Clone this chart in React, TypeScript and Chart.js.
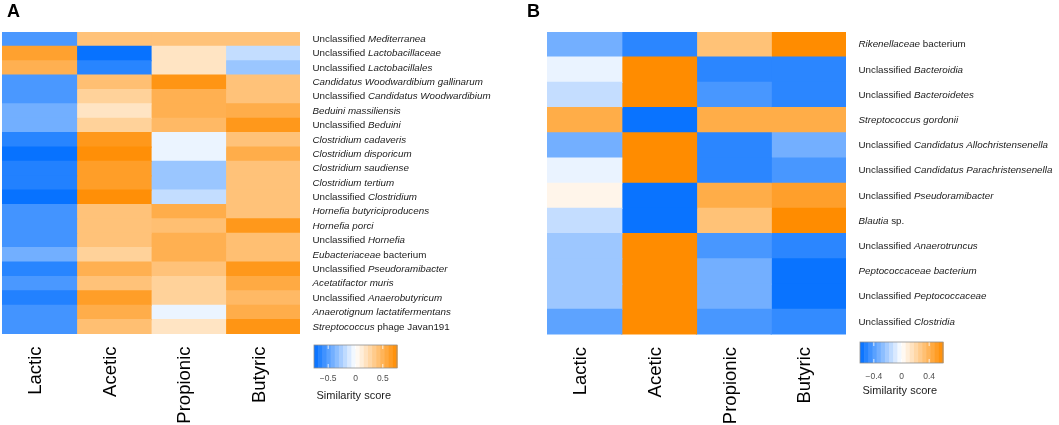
import React, { useEffect, useRef } from "react";
import { Chart, registerables } from "chart.js";

Chart.register(...registerables);

// ---------- data ----------
const columns = ["Lactic", "Acetic", "Propionic", "Butyric"];

// *text* marks the italic part of a label
const rowsA = [
  "Unclassified *Mediterranea*",
  "Unclassified *Lactobacillaceae*",
  "Unclassified *Lactobacillales*",
  "*Candidatus Woodwardibium gallinarum*",
  "Unclassified *Candidatus Woodwardibium*",
  "*Beduini massiliensis*",
  "Unclassified *Beduini*",
  "*Clostridium cadaveris*",
  "*Clostridium disporicum*",
  "*Clostridium saudiense*",
  "*Clostridium tertium*",
  "Unclassified *Clostridium*",
  "*Hornefia butyriciproducens*",
  "*Hornefia porci*",
  "Unclassified *Hornefia*",
  "*Eubacteriaceae* bacterium",
  "Unclassified *Pseudoramibacter*",
  "*Acetatifactor muris*",
  "Unclassified *Anaerobutyricum*",
  "*Anaerotignum lactatifermentans*",
  "*Streptococcus* phage Javan191",
];
const lacticA = [-0.54, 0.62, 0.52, -0.54, -0.54, -0.42, -0.42, -0.64, -0.74, -0.66, -0.66, -0.74, -0.56, -0.56, -0.56, -0.42, -0.64, -0.54, -0.66, -0.56, -0.56];
const aceticA = [0.4, -0.74, -0.64, 0.42, 0.3, 0.18, 0.3, 0.68, 0.74, 0.64, 0.64, 0.74, 0.4, 0.4, 0.4, 0.3, 0.52, 0.4, 0.64, 0.54, 0.42];
const propionicA = [0.4, 0.18, 0.18, 0.7, 0.52, 0.52, 0.46, -0.06, -0.06, -0.3, -0.3, -0.18, 0.54, 0.42, 0.52, 0.52, 0.4, 0.3, 0.3, -0.06, 0.18];
const butyricA = [0.4, -0.18, -0.3, 0.4, 0.4, 0.54, 0.68, 0.4, 0.54, 0.4, 0.4, 0.4, 0.4, 0.68, 0.42, 0.42, 0.68, 0.56, 0.46, 0.54, 0.7];
const limitA = 0.76;
const ticksA = [-0.5, 0, 0.5];

const rowsB = [
  "*Rikenellaceae* bacterium",
  "Unclassified *Bacteroidia*",
  "Unclassified *Bacteroidetes*",
  "*Streptococcus gordonii*",
  "Unclassified *Candidatus Allochristensenella*",
  "Unclassified *Candidatus Parachristensenella*",
  "Unclassified *Pseudoramibacter*",
  "*Blautia* sp.",
  "Unclassified *Anaerotruncus*",
  "*Peptococcaceae bacterium*",
  "Unclassified *Peptococcaceae*",
  "Unclassified *Clostridia*",
];
const lacticB = [-0.33, -0.05, -0.14, 0.43, -0.33, -0.05, 0.05, -0.14, -0.23, -0.23, -0.23, -0.38];
const aceticB = [-0.5, 0.6, 0.6, -0.58, 0.6, 0.6, -0.58, -0.58, 0.6, 0.6, 0.6, 0.6];
const propionicB = [0.32, -0.5, -0.43, 0.43, -0.5, -0.5, 0.43, 0.32, -0.43, -0.33, -0.33, -0.43];
const butyricB = [0.6, -0.5, -0.5, 0.43, -0.33, -0.43, 0.5, 0.6, -0.5, -0.58, -0.58, -0.48];
const limitB = 0.6;
const ticksB = [-0.4, 0, 0.4];

const legendTitle = "Similarity score";

// ---------- styling ----------
const FONT = "'Liberation Sans', Arial, Helvetica, sans-serif";
const LOW = [0, 110, 255];
const HIGH = [255, 140, 0];

function scoreColor(v: number, lim: number): string {
  const t = Math.max(-1, Math.min(1, v / lim));
  const end = t < 0 ? LOW : HIGH;
  const a = Math.abs(t);
  const c = end.map((e) => Math.round(255 + (e - 255) * a));
  return `rgb(${c[0]},${c[1]},${c[2]})`;
}

function fmtTick(v: number): string {
  if (v === 0) return "0";
  return (v < 0 ? "\u2212" : "") + Math.abs(v).toString();
}

interface PanelCfg {
  letter: string;
  letterX: number;
  rows: string[];
  values: number[][];
  limit: number;
  ticks: number[];
  padding: { left: number; right: number; top: number; bottom: number };
  barTop: number;
  barH: number;
  tickY: number;
  titleY: number;
  width: number;
}

const decorPlugin = {
  id: "heatDecor",
  afterDraw(chart: any, _args: any, opts: any) {
    const cfg: PanelCfg = opts.cfg;
    const ctx: CanvasRenderingContext2D = chart.ctx;
    const area = chart.chartArea;
    const xs = chart.scales.x;
    const ys = chart.scales.y;
    ctx.save();

    // panel letter
    ctx.fillStyle = "#000";
    ctx.font = `bold 18px ${FONT}`;
    ctx.textAlign = "left";
    ctx.textBaseline = "alphabetic";
    ctx.fillText(cfg.letter, cfg.letterX, 16.5);

    // row labels (mixed italic)
    ctx.fillStyle = "#1a1a1a";
    ctx.textBaseline = "middle";
    cfg.rows.forEach((lab, i) => {
      const y = ys.getPixelForValue(i);
      let x = area.right + 12.5;
      const parts = lab.split("*");
      parts.forEach((p, k) => {
        if (!p) return;
        ctx.font = `${k % 2 === 1 ? "italic " : ""}9.8px ${FONT}`;
        ctx.fillText(p, x, y);
        x += ctx.measureText(p).width;
      });
    });

    // column labels (rotated)
    ctx.fillStyle = "#000";
    ctx.font = `18.5px ${FONT}`;
    columns.forEach((c, j) => {
      const x = xs.getPixelForValue(j + 0.5);
      ctx.save();
      ctx.translate(x + 1.8, area.bottom + 12.5);
      ctx.rotate(-Math.PI / 2);
      ctx.textAlign = "right";
      ctx.textBaseline = "alphabetic";
      ctx.fillText(c, 0, 0);
      ctx.restore();
    });

    // colour bar
    const bx = area.right + 14;
    const bw = 83;
    const by = cfg.barTop;
    const bh = cfg.barH;
    const nbin = 20;
    for (let b = 0; b < nbin; b++) {
      const v = -cfg.limit + (2 * cfg.limit * (b + 0.5)) / nbin;
      ctx.fillStyle = scoreColor(v, cfg.limit);
      const x0 = bx + (bw * b) / nbin;
      ctx.fillRect(x0, by, bw / nbin + 0.6, bh);
    }
    const toX = (v: number) => bx + ((v + cfg.limit) / (2 * cfg.limit)) * bw;
    ctx.strokeStyle = "#ffffff";
    ctx.lineWidth = 0.8;
    cfg.ticks.forEach((t) => {
      const x = toX(t);
      ctx.beginPath();
      ctx.moveTo(x, by + bh);
      ctx.lineTo(x, by + bh - 4);
      ctx.moveTo(x, by);
      ctx.lineTo(x, by + 4);
      ctx.stroke();
    });
    ctx.strokeStyle = "#8f8f8f";
    ctx.lineWidth = 0.8;
    ctx.strokeRect(bx, by, bw, bh);

    ctx.fillStyle = "#4d4d4d";
    ctx.font = `8.5px ${FONT}`;
    ctx.textAlign = "center";
    ctx.textBaseline = "middle";
    cfg.ticks.forEach((t) => ctx.fillText(fmtTick(t), toX(t), cfg.tickY));

    ctx.fillStyle = "#1a1a1a";
    ctx.font = `11px ${FONT}`;
    ctx.textAlign = "left";
    ctx.fillText(legendTitle, bx + 2.5, cfg.titleY);

    ctx.restore();
  },
};

function Heatmap({ cfg, left }: { cfg: PanelCfg; left: number }) {
  const ref = useRef<HTMLCanvasElement>(null);
  useEffect(() => {
    if (!ref.current) return;
    const chart = new Chart(ref.current, {
      type: "bar",
      data: {
        labels: cfg.rows,
        datasets: columns.map((c, j) => ({
          label: c,
          data: cfg.rows.map(() => [j, j + 1] as [number, number]),
          backgroundColor: cfg.values[j].map((v) => scoreColor(v, cfg.limit)),
          borderWidth: 0,
          barPercentage: 1,
          categoryPercentage: 1,
          inflateAmount: 0.6,
          grouped: false,
        })) as any,
      },
      options: {
        indexAxis: "y",
        animation: false,
        responsive: false,
        maintainAspectRatio: false,
        events: [],
        layout: { padding: cfg.padding },
        plugins: {
          legend: { display: false },
          tooltip: { enabled: false },
          heatDecor: { cfg },
        } as any,
        scales: {
          x: { type: "linear", min: 0, max: 4, display: false },
          y: { type: "category", display: false, offset: true },
        },
      },
      plugins: [decorPlugin as any],
    });
    return () => chart.destroy();
  }, [cfg]);
  return (
    <canvas
      ref={ref}
      width={cfg.width}
      height={425}
      style={{ position: "absolute", left, top: 0, width: cfg.width, height: 425 }}
    />
  );
}

const panelA: PanelCfg = {
  letter: "A",
  letterX: 7,
  rows: rowsA,
  values: [lacticA, aceticA, propionicA, butyricA],
  limit: limitA,
  ticks: ticksA,
  padding: { left: 2, right: 220, top: 32, bottom: 91 },
  barTop: 345,
  barH: 23,
  tickY: 379,
  titleY: 396,
  width: 520,
};

const panelB: PanelCfg = {
  letter: "B",
  letterX: 7,
  rows: rowsB,
  values: [lacticB, aceticB, propionicB, butyricB],
  limit: limitB,
  ticks: ticksB,
  padding: { left: 27, right: 213, top: 32, bottom: 90.5 },
  barTop: 342,
  barH: 21,
  tickY: 377,
  titleY: 391,
  width: 539,
};

export default function App() {
  return (
    <div
      style={{
        position: "absolute",
        left: 0,
        top: 0,
        width: 1059,
        height: 425,
        background: "#ffffff",
        overflow: "hidden",
      }}
    >
      <Heatmap cfg={panelA} left={0} />
      <Heatmap cfg={panelB} left={520} />
    </div>
  );
}
